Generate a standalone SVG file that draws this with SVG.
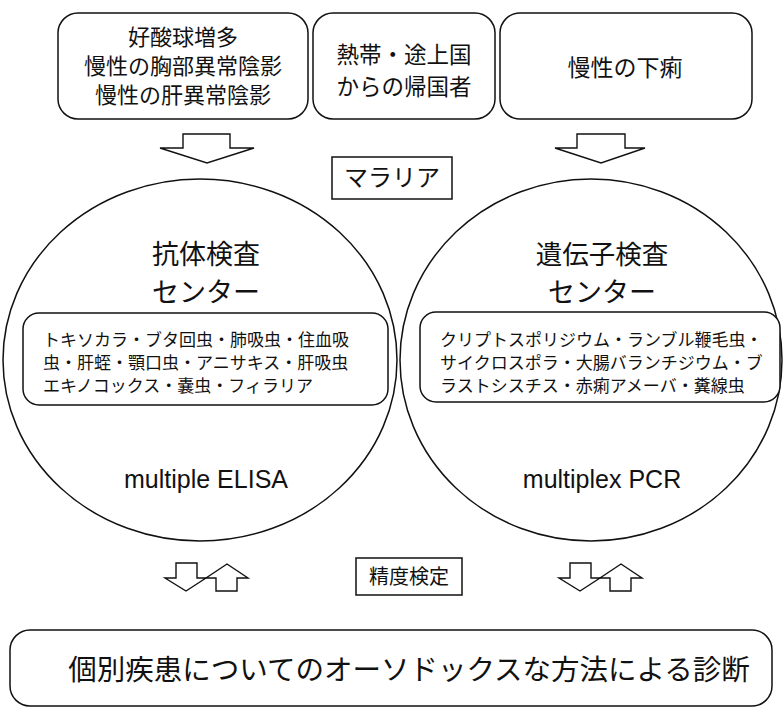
<svg xmlns="http://www.w3.org/2000/svg" width="783" height="712" viewBox="0 0 783 712">
<style>
.box{fill:#fff;stroke:#111;stroke-width:1.5}
.ell{fill:none;stroke:#111;stroke-width:1.5}
.arr{fill:#fff;stroke:#111;stroke-width:1.4;stroke-linejoin:miter}
.jp{font-family:"Noto Sans CJK JP","Noto Sans CJK SC",sans-serif;fill:#111;text-anchor:middle}
.jl{font-family:"Noto Sans CJK JP","Noto Sans CJK SC",sans-serif;fill:#111;text-anchor:start;font-size:17px}
.en{font-family:"Liberation Sans",Arial,sans-serif;fill:#111;text-anchor:middle;font-size:25px}
</style>
<rect width="783" height="712" fill="#fff"/>
<g id="box-symptoms">
<rect class="box" x="58" y="13" width="250" height="106" rx="20"/>
<text class="jp" font-size="22" x="183" y="45">好酸球増多</text>
<text class="jp" font-size="22" x="183" y="74">慢性の胸部異常陰影</text>
<text class="jp" font-size="22" x="183" y="103">慢性の肝異常陰影</text>
</g>
<g id="box-travel">
<rect class="box" x="313" y="13" width="182" height="106" rx="20"/>
<text class="jp" font-size="22.5" x="404" y="63">熱帯・途上国</text>
<text class="jp" font-size="22.5" x="404" y="95">からの帰国者</text>
</g>
<g id="box-diarrhea">
<rect class="box" x="500" y="13" width="252" height="106" rx="20"/>
<text class="jp" font-size="23" x="625" y="76">慢性の下痢</text>
</g>
<g id="malaria">
<rect class="box" x="332" y="157" width="120" height="42"/>
<text class="jp" font-size="24" x="392" y="186">マラリア</text>
</g>
<g id="antibody-center">
<ellipse class="ell" cx="200" cy="360" rx="197" ry="181"/>
<text class="jp" font-size="27" x="206" y="264">抗体検査</text>
<text class="jp" font-size="27" x="206" y="302">センター</text>
<rect class="box" x="23" y="313" width="365" height="92" rx="16"/>
<text class="jl" x="43" y="346">トキソカラ・ブタ回虫・肺吸虫・住血吸</text>
<text class="jl" x="43" y="369">虫・肝蛭・顎口虫・アニサキス・肝吸虫</text>
<text class="jl" x="43" y="392">エキノコックス・嚢虫・フィラリア</text>
<text class="en" x="206" y="488">multiple ELISA</text>
</g>
<g id="gene-center">
<ellipse class="ell" cx="591" cy="360" rx="191" ry="181"/>
<text class="jp" font-size="26.5" x="602" y="264">遺伝子検査</text>
<text class="jp" font-size="27" x="602" y="302">センター</text>
<rect class="box" x="420" y="312" width="360" height="90" rx="16"/>
<text class="jl" x="440" y="346">クリプトスポリジウム・ランブル鞭毛虫・</text>
<text class="jl" x="440" y="369">サイクロスポラ・大腸バランチジウム・ブ</text>
<text class="jl" x="440" y="392">ラストシスチス・赤痢アメーバ・糞線虫</text>
<text class="en" x="602" y="488">multiplex PCR</text>
</g>
<g id="accuracy">
<rect class="box" x="356" y="558" width="106" height="37"/>
<text class="jp" font-size="20" x="409" y="584">精度検定</text>
</g>
<g id="diagnosis">
<rect class="box" x="10" y="630" width="762" height="76" rx="20"/>
<text class="jp" font-size="28.5" x="409" y="680">個別疾患についてのオーソドックスな方法による診断</text>
</g>
<g id="connectors">
<polygon class="arr" points="183,134 230,134 230,148 254,148 207,163 160,148 183,148"/>
<polygon class="arr" points="577,134 625,134 625,148 645,148 601,163 555,148 577,148"/>
<polygon class="arr" points="176,563 197,563 197,578 206,578 186,591 165,578 176,578"/>
<polygon class="arr" points="227,564 248,578 237,578 237,591 216,591 216,578 206,578"/>
<polygon class="arr" points="570,563 591,563 591,578 600,578 580,591 559,578 570,578"/>
<polygon class="arr" points="621,564 642,578 631,578 631,591 610,591 610,578 600,578"/>
</g>
</svg>
